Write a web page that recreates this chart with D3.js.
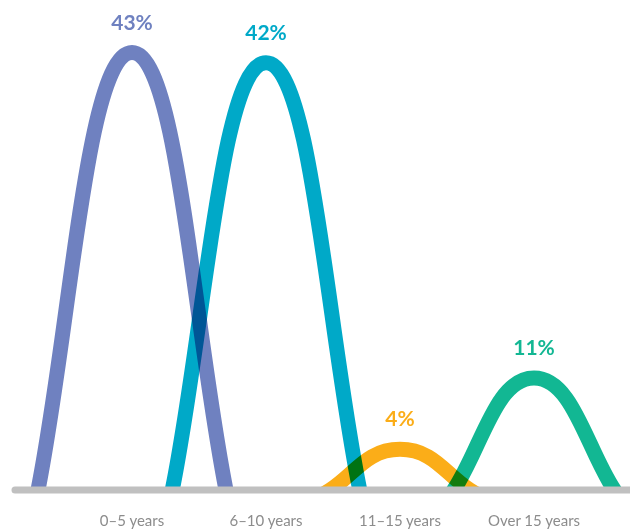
<!DOCTYPE html>
<html>
<head>
<meta charset="utf-8">
<script src="https://cdnjs.cloudflare.com/ajax/libs/d3/7.8.5/d3.min.js"></script>
<style>
    body { margin: 0; background: #fff; }
    svg { display: block; }
    .curve { fill: none; stroke-width: 15; mix-blend-mode: multiply; }
    .pct { font-family: Lato, sans-serif; font-weight: 700; font-size: 21px; }
    .cat { font-family: Lato, sans-serif; font-size: 15px; fill: #8c8c8c; }
</style>
</head>
<body>
<svg></svg>
<script>
let categories = ["0–5 years", "6–10 years", "11–15 years", "Over 15 years"]
let values = [43, 42, 4, 11]
let labels = ["43%", "42%", "4%", "11%"]
let colors = ["#6f81c0", "#00a9c8", "#fbad18", "#12b793"]

let width = 630
let height = 530
let baseY = 490

let svg = d3.select('svg').attr("width", width).attr("height", height)

let xScale = d3.scalePoint().domain(categories).range([132, 534])
let yScale = d3.scaleLinear().domain([0, 43]).range([baseY, 52.5])
// half width of each bump grows slowly with its height
let wScale = d3.scaleLog().domain([4, 43]).range([70, 94])

let bump = (cat, v) => {
    let cx = xScale(cat)
    let top = yScale(v)
    let base = yScale(0)
    let h = base - top
    let hw = wScale(v)
    // run the ends a little past the baseline, they get clipped
    let len = Math.hypot(0.35 * hw, 0.38 * h)
    let ex = 10 * 0.35 * hw / len
    let ey = 10 * 0.38 * h / len
    let p = d3.path()
    p.moveTo(cx - hw - ex, base + ey)
    p.lineTo(cx - hw, base)
    p.bezierCurveTo(cx - 0.65 * hw, base - 0.38 * h, cx - 0.48 * hw, top, cx, top)
    p.bezierCurveTo(cx + 0.48 * hw, top, cx + 0.65 * hw, base - 0.38 * h, cx + hw, base)
    p.lineTo(cx + hw + ex, base + ey)
    return p.toString()
}

let rows = categories.map((c, i) => ({cat: c, v: values[i], label: labels[i], color: colors[i]}))

svg.append("clipPath").attr("id", "above")
    .append("rect").attr("x", 0).attr("y", 0).attr("width", width).attr("height", baseY - 3)

svg.append("g").attr("clip-path", "url(#above)")
    .selectAll("path")
    .data(rows)
    .enter()
    .append("path")
    .attr("class", "curve")
    .attr("stroke", d => d.color)
    .attr("d", d => bump(d.cat, d.v))

// baseline
svg.append("line")
    .attr("x1", 15).attr("x2", width + 10)
    .attr("y1", baseY).attr("y2", baseY)
    .attr("stroke", "#c0c0c0")
    .attr("stroke-width", 7)
    .attr("stroke-linecap", "round")

svg.append("g").selectAll("text")
    .data(rows)
    .enter()
    .append("text")
    .attr("class", "pct")
    .attr("fill", d => d.color)
    .attr("text-anchor", "middle")
    .attr("x", d => xScale(d.cat))
    .attr("y", d => yScale(d.v) - 23)
    .text(d => d.label)

svg.append("g").selectAll("text")
    .data(rows)
    .enter()
    .append("text")
    .attr("class", "cat")
    .attr("text-anchor", "middle")
    .attr("x", d => xScale(d.cat))
    .attr("y", 526)
    .text(d => d.cat)
</script>
</body>
</html>
